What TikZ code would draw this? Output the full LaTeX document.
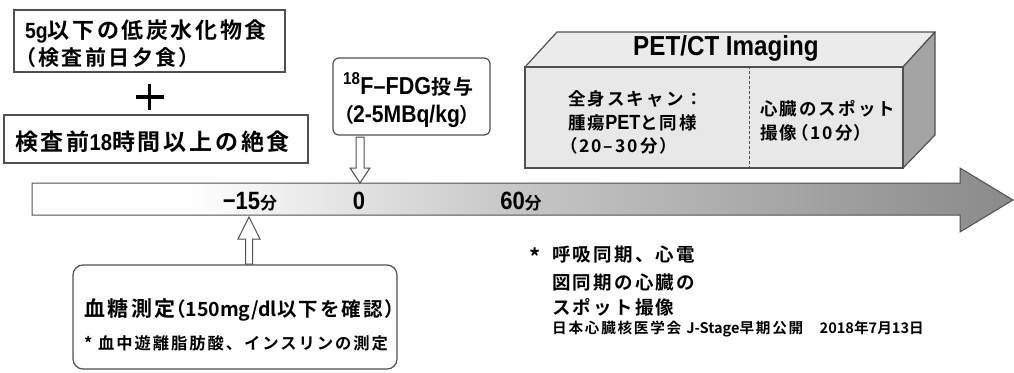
\documentclass[tikz,border=0pt]{standalone}
\usepackage{fontspec}
\newfontfamily\jp{Noto Sans CJK JP Bold}[LetterSpace=12]
\newfontfamily\jpp{Noto Sans CJK JP Bold}[LetterSpace=12,RawFeature=+palt]
\newfontfamily\jn{Noto Sans CJK JP Bold}
\newfontfamily\ar{Liberation Sans Bold}[FakeStretch=0.88]
\setmainfont{Noto Sans CJK JP Bold}
\usetikzlibrary{calc}
\definecolor{lineg}{HTML}{505050}
\definecolor{topc}{HTML}{EBEBEB}
\definecolor{frontc}{HTML}{E8E8E8}
\definecolor{sidec}{HTML}{A4A4A4}
\definecolor{tlmid}{HTML}{C8C8C8}
\definecolor{tlend}{HTML}{8A8A8A}
\pgfdeclarehorizontalshading{tlshade}{100bp}{color(0bp)=(white); color(33bp)=(white); color(49bp)=(tlmid); color(75bp)=(tlend); color(100bp)=(tlend)}
\newcommand{\fsz}[1]{\fontsize{#1}{#1}\selectfont}
\begin{document}
\begin{tikzpicture}[x=1pt,y=-1pt,
  box/.style={draw=lineg, line width=1.2pt, fill=white, inner sep=0},
  rbox/.style={box, rounded corners=#1},
  txt/.style={inner sep=0, anchor=base west, text=black, font=\jp},
  ctr/.style={inner sep=0, anchor=base, text=black},
  hollow/.style={draw=lineg, line width=1pt, fill=white, line join=miter},
  face/.style={draw=lineg, line width=1.2pt, line join=round},
  tl/.style={draw=lineg, line width=1pt, shading=tlshade, line join=miter}]
\useasboundingbox (0,0) rectangle (1014,372);

% left boxes
\node[box, minimum width=271pt, minimum height=62pt] (box1) at (149.5,41) {};
\node[txt] (t1a) at (25,38) {\fsz{22}{\ar 5g}以下の低炭水化物食};
\node[txt] (t1b) at (25,65) {\jpp\fsz{21}（検査前日夕食）};
\draw[line width=3.8pt] (135.5,97) -- (163.5,97);
\draw[line width=3.8pt] (149.5,84) -- (149.5,110);
\node[box, minimum width=304pt, minimum height=48pt] (box2) at (156,139) {};
\node[txt] (t2) at (15,150) {\fsz{23}検査前{\ar 18}時間以上の絶食};

% FDG box
\node[rbox=6pt, minimum width=157pt, minimum height=77pt] (fdg) at (411.5,96.5) {};
\node[txt] (f1) at (343,94) {{\ar\fsz{24.5}\textsuperscript{18}F–FDG}\fsz{20}投与};
\node[txt] (f2) at (343,122) {\jpp\fsz{20}（{\ar\fsz{24}2-5MBq/kg}）};

% PET/CT box
\coordinate (pA) at (525,67);
\coordinate (pE) at (557,32);
\coordinate (pF) at (935,32);
\coordinate (pB) at (903,67);
\coordinate (pC) at (903,168);
\coordinate (pG) at (935,135);
\filldraw[face, fill=topc] (pA) -- (pE) -- (pF) -- (pB) -- cycle;
\filldraw[face, fill=sidec] (pB) -- (pF) -- (pG) -- (pC) -- cycle;
\node[box, fill=frontc, minimum width=378pt, minimum height=101pt] (pet) at (714,117.5) {};
\node[ctr] (pett) at (726,55) {\ar\fsz{27.5}PET/CT Imaging};
\draw[draw=lineg, line width=0.8pt, dash pattern=on 3pt off 2pt] (pet.north -| 749,0) -- (pet.south -| 749,0);
\node[txt] (pl1) at (568,105) {\fsz{17.5}全身スキャン：};
\node[txt] (pl2) at (568,129) {\fsz{17.5}腫瘍{\ar\fsz{20.5}PET}と同様};
\node[txt] (pl3) at (568,152) {\jpp\fsz{17.5}（20–30分）};
\node[txt] (pr1) at (760,115) {\fsz{17.5}心臓のスポット};
\node[txt] (pr2) at (760,139) {\jpp\fsz{17.5}撮像（10分）};

% timeline
\coordinate (tip) at (1013,200);
\path[tl] (32,183) -- (960,183) -- (960,168) -- (tip) -- (960,232) -- (960,215) -- (32,215) -- cycle;
\node[ctr] (m15) at (250,209) {{\ar\fsz{25}−15}{\jp\fsz{17}分}};
\node[ctr] (m0) at (359,209) {\ar\fsz{25}0};
\node[ctr] (m60) at (521,209) {{\ar\fsz{25}60}{\jp\fsz{17}分}};

% hollow arrows
\coordinate (dTop) at (360,137);
\coordinate (dTip) at (360,183);
\path[hollow] ($(dTop)+(-4,0)$) -- ($(dTop)+(4,0)$) -- ($(dTip)+(4,-15)$) -- ($(dTip)+(10,-15)$) -- (dTip) -- ($(dTip)+(-10,-15)$) -- ($(dTip)+(-4,-15)$) -- cycle;

\node[rbox=10pt, minimum width=324pt, minimum height=104pt] (bs) at (235,317) {};
\coordinate (uTip) at (249,217);
\coordinate (uBot) at (249,264);
\path[hollow] ($(uBot)+(-3.5,0)$) -- ($(uBot)+(3.5,0)$) -- ($(uTip)+(3.5,22)$) -- ($(uTip)+(11,22)$) -- (uTip) -- ($(uTip)+(-11,22)$) -- ($(uTip)+(-3.5,22)$) -- cycle;

\node[txt] (bs1) at (84,316) {\fsz{21}血糖測定{\jpp\fsz{19.5}（{\jn 150mg/dl}以下を確認）}};
\node[txt] (bs2) at (84,349) {\fsz{16.3}* 血中遊離脂肪酸、インスリンの測定};

% note
\node[txt] (ast) at (529,265) {\fsz{22}*};
\node[txt] (n1) at (552,261) {\fsz{18.5}呼吸同期、心電};
\node[txt] (n2) at (552,289) {\fsz{18.5}図同期の心臓の};
\node[txt] (n3) at (552,314) {\fsz{18.5}スポット撮像};
\node[txt] (n4) at (552,333) {\fsz{14.6}日本心臓核医学会 {\jn J-Stage}早期公開　{\jn 2018}年{\jn 7}月{\jn 13}日};
\end{tikzpicture}
\end{document}
